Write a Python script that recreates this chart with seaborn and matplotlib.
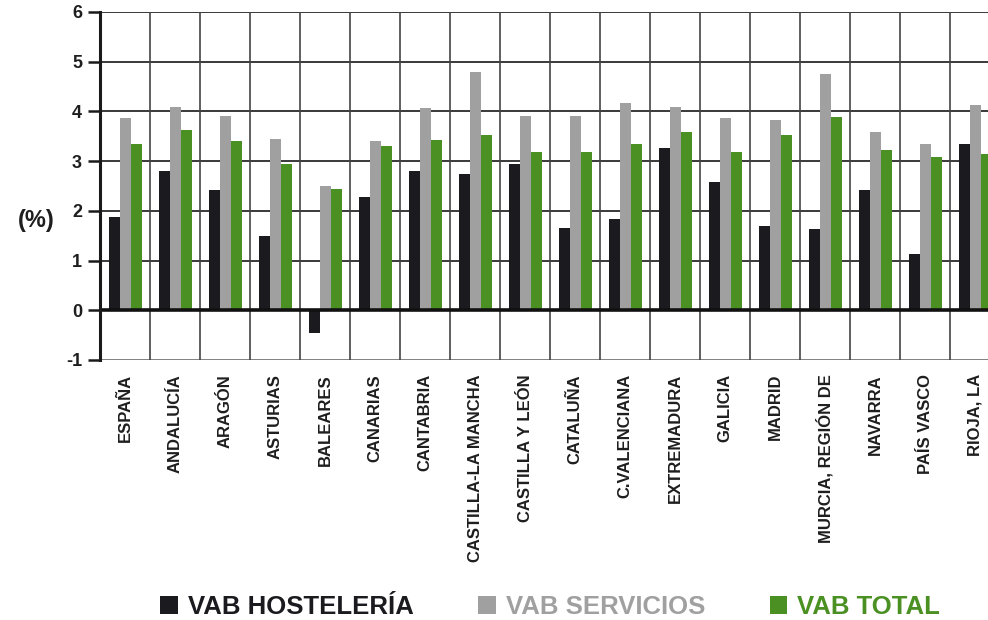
import matplotlib
matplotlib.use("Agg")
import matplotlib.pyplot as plt
import matplotlib.patches as mpatches
import seaborn as sns
import pandas as pd
import numpy as np

regions = ["ESPAÑA", "ANDALUCÍA", "ARAGÓN", "ASTURIAS", "BALEARES", "CANARIAS",
           "CANTABRIA", "CASTILLA-LA MANCHA", "CASTILLA Y LEÓN", "CATALUÑA",
           "C.VALENCIANA", "EXTREMADURA", "GALICIA", "MADRID",
           "MURCIA, REGIÓN DE", "NAVARRA", "PAÍS VASCO", "RIOJA, LA"]
vab_hosteleria = [1.87, 2.80, 2.42, 1.50, -0.45, 2.27, 2.81, 2.75, 2.95, 1.66,
                  1.84, 3.26, 2.58, 1.70, 1.63, 2.42, 1.13, 3.34]
vab_servicios = [3.87, 4.09, 3.91, 3.44, 2.51, 3.40, 4.07, 4.79, 3.91, 3.91,
                 4.17, 4.08, 3.86, 3.83, 4.75, 3.58, 3.35, 4.13]
vab_total = [3.34, 3.63, 3.41, 2.94, 2.43, 3.30, 3.42, 3.52, 3.18, 3.18,
             3.34, 3.58, 3.19, 3.52, 3.89, 3.23, 3.09, 3.15]
series_names = ["VAB HOSTELERÍA", "VAB SERVICIOS", "VAB TOTAL"]
series_colors = ["#1b1a1e", "#a0a0a0", "#4a9023"]
y_ticks = [-1, 0, 1, 2, 3, 4, 5, 6]

df = pd.DataFrame({
    "region": regions * 3,
    "serie": [series_names[0]] * len(regions) + [series_names[1]] * len(regions) + [series_names[2]] * len(regions),
    "valor": vab_hosteleria + vab_servicios + vab_total,
})

sns.set_theme(style="white")
plt.rcParams["font.family"] = ["Liberation Sans", "DejaVu Sans"]
plt.rcParams["font.weight"] = "bold"

fig = plt.figure(figsize=(9.88, 6.2), dpi=100)
ax = fig.add_axes([100 / 988, 1 - 360 / 620, 1 - 100 / 988, (360 - 12) / 620])

sns.barplot(data=df, x="region", y="valor", hue="serie", order=regions,
            hue_order=series_names, palette=series_colors, width=0.66, gap=0,
            saturation=1, edgecolor="none", linewidth=0, legend=False, ax=ax, zorder=3)

ax.set_ylim(-1, 6)
ax.set_xlim(-0.5, 17.26)
ax.set_yticks(y_ticks)
ax.set_yticklabels([str(t) for t in y_ticks], fontsize=13, fontweight="bold", color="#1e1e1e")

# grid
for t in y_ticks:
    ax.axhline(t, color="#2a2a2a" if t != -1 else "#777777", lw=1.3, zorder=1)
ax.axhline(0, color="#111111", lw=2.6, zorder=4)
for b in np.arange(0.5, 17.5, 1.0):
    ax.axvline(b, color="#444444", lw=1.2, zorder=1)

for s in ["top", "right", "bottom"]:
    ax.spines[s].set_visible(False)
ax.spines["left"].set_color("#1a1a1a")
ax.spines["left"].set_linewidth(2.2)
ax.spines["left"].set_zorder(5)

ax.tick_params(axis="y", which="major", direction="out", length=9, width=1.8,
               color="#1a1a1a", pad=4, left=True)
ax.tick_params(axis="x", length=0, pad=10)
ax.set_xticks(range(len(regions)))
ax.set_xticklabels(regions, rotation=90, fontsize=12, fontweight="bold",
                   color="#1e1e1e", va="top", ha="center")
ax.set_xlabel("")
ax.set_ylabel("(%)", rotation=0, fontsize=17, fontweight="bold", color="#1e1e1e")
ax.yaxis.set_label_coords((36 - 100) / 888, (360 - 220) / 348)
ax.yaxis.label.set_verticalalignment("center")
ax.yaxis.label.set_horizontalalignment("center")

handles = [mpatches.Patch(facecolor=c, edgecolor="none") for c in series_colors]
leg = fig.legend(handles, series_names, loc="center", bbox_to_anchor=(0.557, 1 - 607 / 620),
                 ncol=3, frameon=False, handlelength=0.68,
                 handleheight=0.68, handletextpad=0.4, columnspacing=2.5,
                 prop={"weight": "bold", "size": 18.5})
for txt, c in zip(leg.get_texts(), series_colors):
    txt.set_color(c)

fig.savefig("out.png", dpi=100)
